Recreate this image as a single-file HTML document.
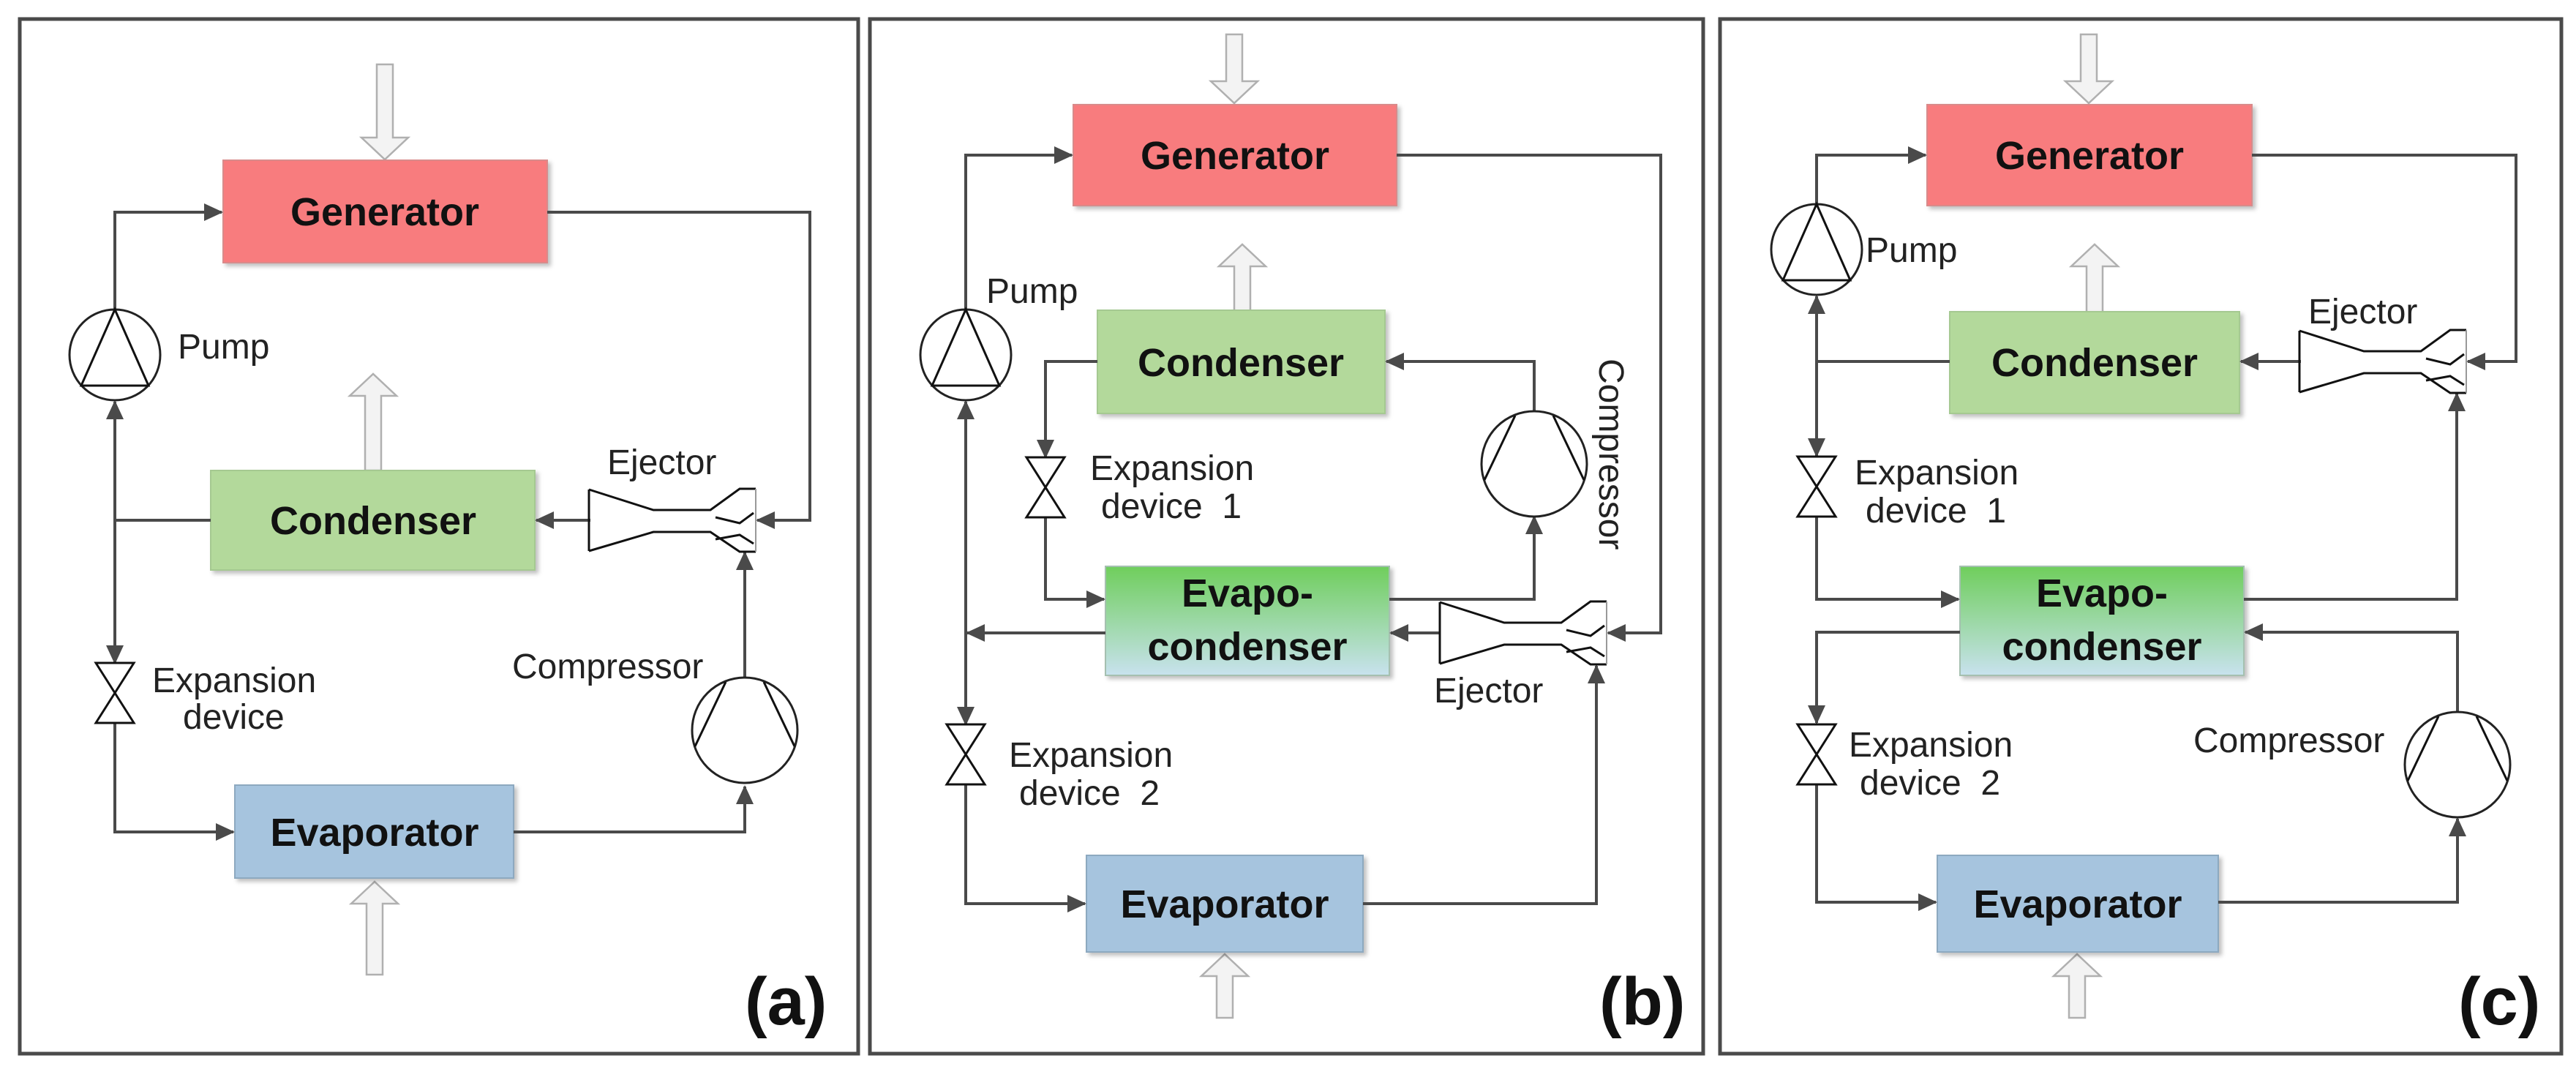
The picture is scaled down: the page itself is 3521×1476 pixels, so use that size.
<!DOCTYPE html>
<html><head><meta charset="utf-8"><style>
html,body{margin:0;padding:0;background:#fff;}
svg{display:block;}
text{font-family:"Liberation Sans",sans-serif;fill:#111;}
.bl{font-weight:bold;font-size:54px;text-anchor:middle;}
.lb{font-size:48px;fill:#222;}
.ln{fill:none;stroke:#4a4a4a;stroke-width:4;}
.ha{fill:#f3f3f3;stroke:#b0b0b0;stroke-width:2.5;}
.sym{fill:none;stroke:#111;stroke-width:3;}
.pn{fill:#fff;stroke:#4a4a4a;stroke-width:5;}
</style></head><body>
<svg width="3521" height="1476" viewBox="0 0 3521 1476" xmlns="http://www.w3.org/2000/svg">
<defs>
<marker id="ar" markerUnits="userSpaceOnUse" markerWidth="26" markerHeight="24" refX="24" refY="12" orient="auto">
<path d="M0,0 L26,12 L0,24 z" fill="#4a4a4a"/></marker>
<linearGradient id="eg" x1="0" y1="0" x2="0" y2="1"><stop offset="0" stop-color="#6fce5c"/><stop offset="1" stop-color="#c8e2ee"/></linearGradient>
<g id="pump"><circle r="62" fill="#fff" stroke="#222" stroke-width="3"/><path d="M0,-62 L-46,42 L46,42 z" class="sym"/></g>
<g id="comp"><circle r="72" fill="#fff" stroke="#222" stroke-width="3"/><path d="M-68,22 L-26,-66 M26,-66 L68,22" class="sym"/></g>
<g id="valve"><path d="M-26,-41 L26,-41 L-26,41 L26,41 z" fill="#fff" stroke="#111" stroke-width="3"/></g>
<g id="ej">
<path d="M-228,-42 L-228,42 M-228,-42 L-140,-14 L-62,-14 L-22,-43 L0,-43 M-228,42 L-140,16 L-62,16 L-22,43 L0,43 M-55,-4 L-22,4 L-3,-10 M-55,26 L-22,20 L-3,32" class="sym"/>
<path d="M0,-43 L0,43" stroke="#999" stroke-width="2"/></g>
<filter id="sh" x="-5%" y="-5%" width="112%" height="115%"><feDropShadow dx="4" dy="4" stdDeviation="3" flood-color="#000" flood-opacity="0.25"/></filter>
</defs>

<rect x="27" y="26" width="1146" height="1414" class="pn"/>
<rect x="1189" y="26" width="1139" height="1414" class="pn"/>
<rect x="2351" y="26" width="1150" height="1414" class="pn"/>

<!-- ===== Panel A ===== -->
<polygon class="ha" points="515,88 537,88 537,188 558,188 526,218 494,188 515,188"/>
<polygon class="ha" points="499,643 521,643 521,541 542,541 510,511 478,541 499,541"/>
<polygon class="ha" points="501,1332 523,1332 523,1235 544,1235 512,1205 480,1235 501,1235"/>
<rect x="305" y="219" width="443" height="140" fill="#f87b7e" stroke="#d98a8a" stroke-width="2" filter="url(#sh)"/>
<text x="526" y="308" class="bl">Generator</text>
<rect x="288" y="643" width="443" height="136" fill="#b3d99b" stroke="#a5c991" stroke-width="2" filter="url(#sh)"/>
<text x="510" y="730" class="bl">Condenser</text>
<rect x="321" y="1073" width="381" height="127" fill="#a6c4de" stroke="#8da9c0" stroke-width="2" filter="url(#sh)"/>
<text x="512" y="1156" class="bl">Evaporator</text>
<polyline class="ln" points="157,423 157,290 303,290" marker-end="url(#ar)"/>
<polyline class="ln" points="748,290 1107,290 1107,711 1035,711" marker-end="url(#ar)"/>
<polyline class="ln" points="807,711 733,711" marker-end="url(#ar)"/>
<polyline class="ln" points="288,711 157,711"/>
<polyline class="ln" points="157,711 157,549" marker-end="url(#ar)"/>
<polyline class="ln" points="157,711 157,906" marker-end="url(#ar)"/>
<polyline class="ln" points="157,988 157,1137 319,1137" marker-end="url(#ar)"/>
<polyline class="ln" points="702,1137 1018,1137 1018,1075" marker-end="url(#ar)"/>
<polyline class="ln" points="1018,926 1018,755" marker-end="url(#ar)"/>
<use href="#pump" x="157" y="485"/>
<use href="#valve" x="157" y="947"/>
<use href="#comp" x="1018" y="998"/>
<use href="#ej" x="1033" y="711"/>
<text x="243" y="490" class="lb">Pump</text>
<text x="208" y="946" class="lb">Expansion</text>
<text x="250" y="996" class="lb">device</text>
<text x="700" y="927" class="lb">Compressor</text>
<text x="830" y="648" class="lb">Ejector</text>
<text x="1018" y="1400" style="font-weight:bold;font-size:92px">(a)</text>

<!-- ===== Panel B ===== -->
<polygon class="ha" points="1676,47 1698,47 1698,111 1719,111 1687,141 1655,111 1676,111"/>
<polygon class="ha" points="1687,428 1709,428 1709,364 1730,364 1698,334 1666,364 1687,364"/>
<polygon class="ha" points="1663,1391 1685,1391 1685,1334 1706,1334 1674,1304 1642,1334 1663,1334"/>
<rect x="1467" y="143" width="442" height="138" fill="#f87b7e" stroke="#d98a8a" stroke-width="2" filter="url(#sh)"/>
<text x="1688" y="231" class="bl">Generator</text>
<rect x="1500" y="424" width="393" height="141" fill="#b3d99b" stroke="#a5c991" stroke-width="2" filter="url(#sh)"/>
<text x="1696" y="514" class="bl">Condenser</text>
<rect x="1511" y="774" width="388" height="149" fill="url(#eg)" stroke="#a5c0b0" stroke-width="2" filter="url(#sh)"/>
<text x="1705" y="829" class="bl">Evapo-</text>
<text x="1705" y="902" class="bl">condenser</text>
<rect x="1485" y="1169" width="378" height="132" fill="#a6c4de" stroke="#8da9c0" stroke-width="2" filter="url(#sh)"/>
<text x="1674" y="1254" class="bl">Evaporator</text>
<polyline class="ln" points="1320,423 1320,212 1465,212" marker-end="url(#ar)"/>
<polyline class="ln" points="1909,212 2270,212 2270,865 2198,865" marker-end="url(#ar)"/>
<polyline class="ln" points="1968,865 1901,865" marker-end="url(#ar)"/>
<polyline class="ln" points="1511,865 1322,865" marker-end="url(#ar)"/>
<polyline class="ln" points="1320,865 1320,549" marker-end="url(#ar)"/>
<polyline class="ln" points="1320,865 1320,990" marker-end="url(#ar)"/>
<polyline class="ln" points="1320,1072 1320,1235 1483,1235" marker-end="url(#ar)"/>
<polyline class="ln" points="1863,1235 2182,1235 2182,910" marker-end="url(#ar)"/>
<polyline class="ln" points="1500,494 1429,494 1429,625" marker-end="url(#ar)"/>
<polyline class="ln" points="1429,707 1429,819 1509,819" marker-end="url(#ar)"/>
<polyline class="ln" points="1899,819 2097,819 2097,706" marker-end="url(#ar)"/>
<polyline class="ln" points="2097,562 2097,494 1895,494" marker-end="url(#ar)"/>
<use href="#pump" x="1320" y="485"/>
<use href="#valve" x="1429" y="666"/>
<use href="#valve" x="1320" y="1031"/>
<use href="#comp" x="2097" y="634"/>
<use href="#ej" x="2196" y="865"/>
<text x="1348" y="414" class="lb">Pump</text>
<text x="1490" y="656" class="lb">Expansion</text>
<text x="1505" y="708" class="lb">device &#160;1</text>
<text x="1379" y="1048" class="lb">Expansion</text>
<text x="1393" y="1100" class="lb">device &#160;2</text>
<text x="1960" y="960" class="lb">Ejector</text>
<text class="lb" transform="translate(2186,490) rotate(90)">Compressor</text>
<text x="2186" y="1400" style="font-weight:bold;font-size:92px">(b)</text>

<!-- ===== Panel C ===== -->
<polygon class="ha" points="2844,47 2866,47 2866,111 2887,111 2855,141 2823,111 2844,111"/>
<polygon class="ha" points="2852,428 2874,428 2874,364 2895,364 2863,334 2831,364 2852,364"/>
<polygon class="ha" points="2828,1391 2850,1391 2850,1334 2871,1334 2839,1304 2807,1334 2828,1334"/>
<rect x="2634" y="143" width="444" height="138" fill="#f87b7e" stroke="#d98a8a" stroke-width="2" filter="url(#sh)"/>
<text x="2856" y="231" class="bl">Generator</text>
<rect x="2665" y="426" width="396" height="139" fill="#b3d99b" stroke="#a5c991" stroke-width="2" filter="url(#sh)"/>
<text x="2863" y="514" class="bl">Condenser</text>
<rect x="2679" y="774" width="388" height="149" fill="url(#eg)" stroke="#a5c0b0" stroke-width="2" filter="url(#sh)"/>
<text x="2873" y="829" class="bl">Evapo-</text>
<text x="2873" y="902" class="bl">condenser</text>
<rect x="2648" y="1169" width="384" height="132" fill="#a6c4de" stroke="#8da9c0" stroke-width="2" filter="url(#sh)"/>
<text x="2840" y="1254" class="bl">Evaporator</text>
<polyline class="ln" points="2483,279 2483,212 2632,212" marker-end="url(#ar)"/>
<polyline class="ln" points="3078,212 3439,212 3439,494 3373,494" marker-end="url(#ar)"/>
<polyline class="ln" points="3145,494 3063,494" marker-end="url(#ar)"/>
<polyline class="ln" points="2665,494 2483,494"/>
<polyline class="ln" points="2483,494 2483,405" marker-end="url(#ar)"/>
<polyline class="ln" points="2483,494 2483,623" marker-end="url(#ar)"/>
<polyline class="ln" points="2483,706 2483,819 2677,819" marker-end="url(#ar)"/>
<polyline class="ln" points="3067,819 3358,819 3358,538" marker-end="url(#ar)"/>
<polyline class="ln" points="2679,864 2483,864 2483,988" marker-end="url(#ar)"/>
<polyline class="ln" points="2483,1072 2483,1233 2646,1233" marker-end="url(#ar)"/>
<polyline class="ln" points="3032,1233 3359,1233 3359,1119" marker-end="url(#ar)"/>
<polyline class="ln" points="3359,973 3359,864 3069,864" marker-end="url(#ar)"/>
<use href="#pump" x="2483" y="341"/>
<use href="#valve" x="2483" y="665"/>
<use href="#valve" x="2483" y="1031"/>
<use href="#comp" x="3359" y="1045"/>
<use href="#ej" x="3371" y="494"/>
<text x="2550" y="358" class="lb">Pump</text>
<text x="2535" y="662" class="lb">Expansion</text>
<text x="2550" y="714" class="lb">device &#160;1</text>
<text x="2527" y="1034" class="lb">Expansion</text>
<text x="2542" y="1086" class="lb">device &#160;2</text>
<text x="3155" y="442" class="lb">Ejector</text>
<text x="2998" y="1028" class="lb">Compressor</text>
<text x="3360" y="1400" style="font-weight:bold;font-size:92px">(c)</text>
</svg>
</body></html>
